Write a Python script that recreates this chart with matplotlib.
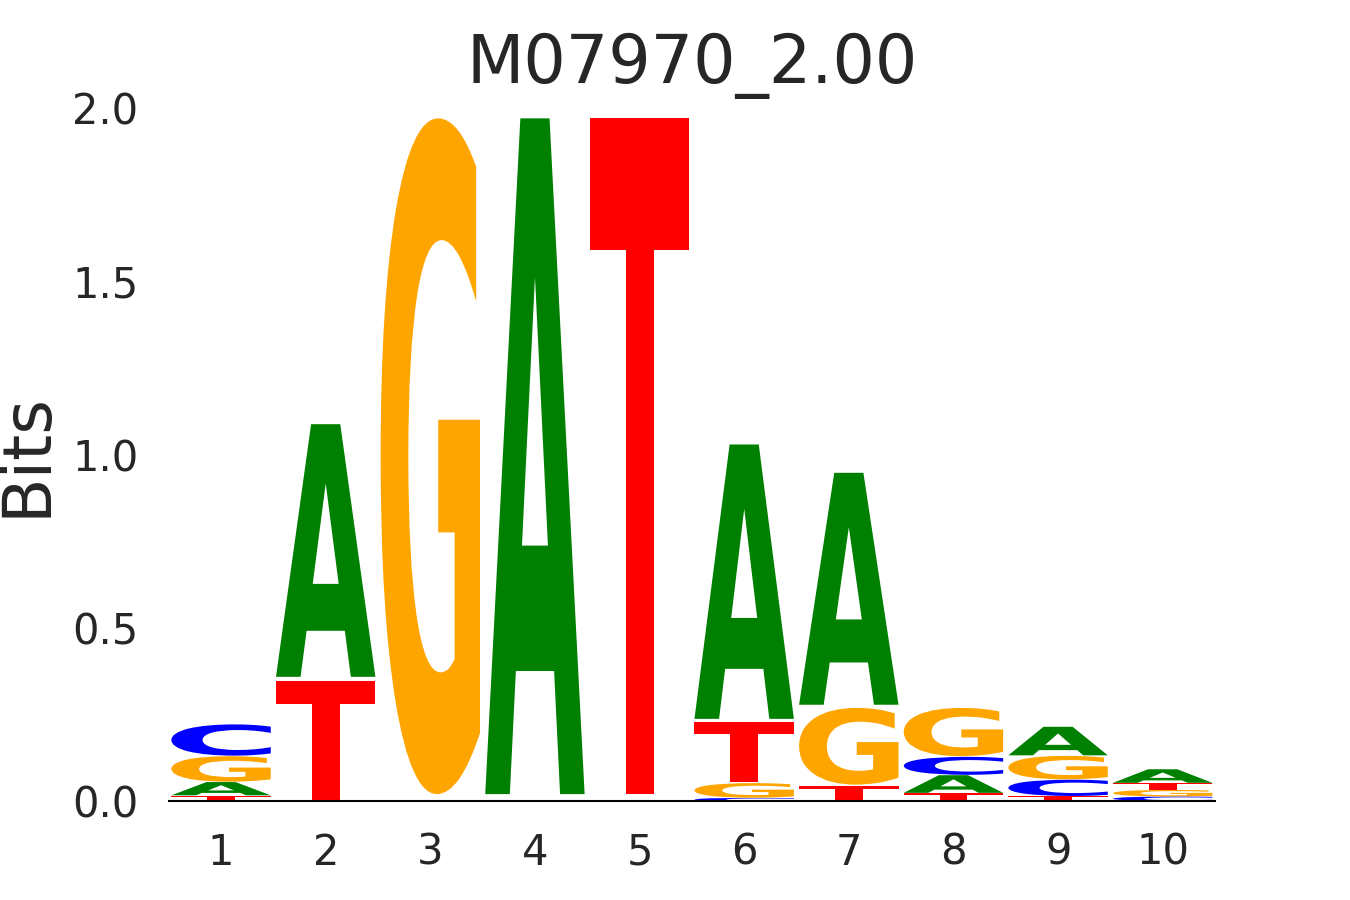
import numpy as np
import matplotlib.pyplot as plt
from matplotlib.textpath import TextPath
from matplotlib.patches import PathPatch
from matplotlib.font_manager import FontProperties
from matplotlib.transforms import Affine2D

# information content (bits) per letter at each position
positions = list(range(1, 11))
bits_A = [0.039, 0.744, 0.000, 1.990, 0.000, 0.808, 0.683, 0.052, 0.084, 0.040]
bits_C = [0.092, 0.000, 0.000, 0.000, 0.000, 0.009, 0.000, 0.053, 0.048, 0.013]
bits_G = [0.075, 0.000, 1.990, 0.000, 0.000, 0.043, 0.226, 0.142, 0.069, 0.019]
bits_T = [0.016, 0.351, 0.000, 0.000, 1.990, 0.177, 0.045, 0.023, 0.014, 0.020]

letters = ['A', 'C', 'G', 'T']
colors = {'A': 'green', 'C': 'blue', 'G': 'orange', 'T': 'red'}
title = "M07970_2.00"

fp = FontProperties(family='DejaVu Sans', weight='bold')


def draw_glyph(ax, ch, x, floor, height, width=0.95, vpad=0.02):
    if height <= 0:
        return
    path = TextPath((0, 0), ch, size=1, prop=fp)
    ext = path.get_extents()
    bottom = floor + vpad * height / 2
    h = height * (1 - vpad)
    tr = (Affine2D()
          .translate(-ext.x0, -ext.y0)
          .scale(width / ext.width, h / ext.height)
          .translate(x - width / 2, bottom))
    patch = PathPatch(tr.transform_path(path), facecolor=colors[ch],
                      edgecolor='none')
    ax.add_patch(patch)


fig, ax = plt.subplots(figsize=(13.5, 9), dpi=100)

table = {'A': bits_A, 'C': bits_C, 'G': bits_G, 'T': bits_T}
for i, pos in enumerate(positions):
    vals = sorted([(table[l][i], l) for l in letters])
    floor = 0.0
    for v, l in vals:
        draw_glyph(ax, l, pos, floor, v)
        floor += v

ax.set_xlim(0.5, 10.5)
ax.set_ylim(0, 2.0)
ax.set_xticks(positions)
ax.set_xticklabels([str(p) for p in positions])
yt = [0, 0.5, 1.0, 1.5, 2.0]
ax.set_yticks(yt)
ax.set_yticklabels([f"{v:.1f}" for v in yt])
ax.tick_params(length=0, pad=22, labelsize=30, labelcolor='#262626')

for s in ['left', 'right', 'top']:
    ax.spines[s].set_visible(False)
ax.spines['bottom'].set_color('black')
ax.spines['bottom'].set_linewidth(1.5)

ax.set_ylabel('Bits', fontsize=48, color='#262626', labelpad=9)
ax.set_title(title, fontsize=48, color='#262626', pad=18)

plt.savefig('out.png', dpi=100)
